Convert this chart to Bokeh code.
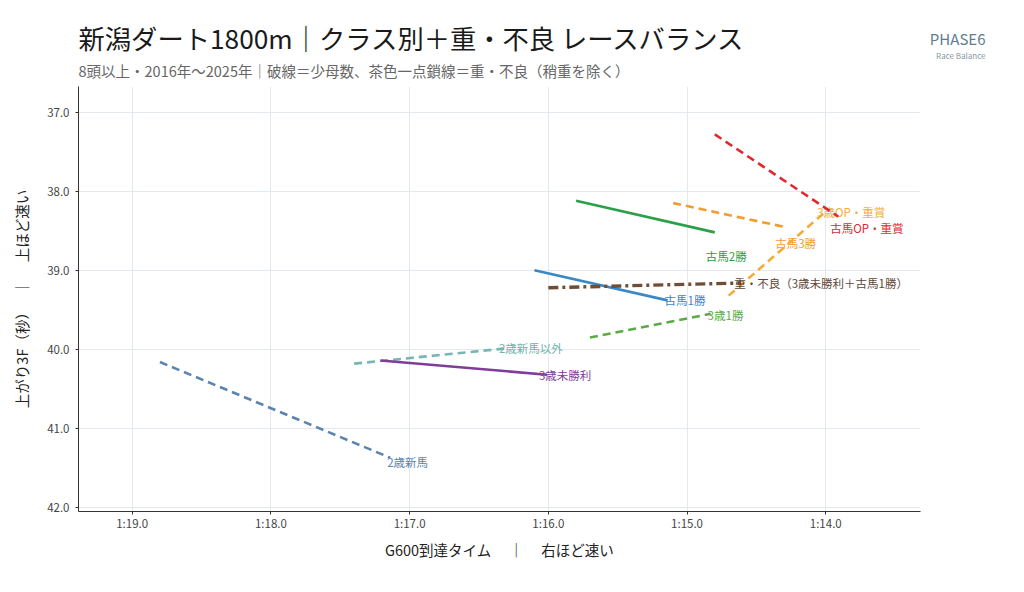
from bokeh.plotting import figure
from bokeh.layouts import column
from bokeh.models import Range1d, FixedTicker
from bokeh.core.properties import value
from bokeh.embed import file_html
from bokeh.resources import INLINE

# ---- data ----
classes = ["2歳新馬", "2歳新馬以外", "3歳未勝利", "3歳1勝", "古馬1勝", "古馬2勝",
           "古馬3勝", "3歳OP・重賞", "古馬OP・重賞", "重・不良（3歳未勝利＋古馬1勝）"]
g600_start = [78.80, 77.40, 77.21, 75.70, 76.10, 75.80, 75.10, 74.70, 74.80, 76.00]
g600_end = [77.14, 76.32, 76.01, 74.83, 75.14, 74.80, 74.30, 73.99, 73.91, 74.61]
l3f_start = [40.16, 40.18, 40.14, 39.85, 39.00, 38.12, 38.15, 39.32, 37.28, 39.22]
l3f_end = [41.37, 39.99, 40.32, 39.55, 39.38, 38.52, 38.45, 38.24, 38.32, 39.16]
line_kind = ["dash", "dash", "solid", "dash", "solid", "solid", "dash", "dash", "dash", "dashdot"]

x_ticks = [79, 78, 77, 76, 75, 74]
x_tick_labels = ["1:19.0", "1:18.0", "1:17.0", "1:16.0", "1:15.0", "1:14.0"]
y_ticks = [37, 38, 39, 40, 41, 42]
y_tick_labels = ["37.0", "38.0", "39.0", "40.0", "41.0", "42.0"]

title_text = "新潟ダート1800m｜クラス別＋重・不良 レースバランス"
subtitle_text = "8頭以上・2016年〜2025年｜破線＝少母数、茶色一点鎖線＝重・不良（稍重を除く）"
brand_text = "PHASE6"
brand_sub_text = "Race Balance"
x_label = "G600到達タイム　 ｜　 右ほど速い"
y_label = "上がり3F（秒）　 ｜　 上ほど速い"

# ---- styles ----
colors = ["#5b84b1", "#76b7b2", "#7f3c98", "#5aab47", "#3a88c6", "#2ca048",
          "#f29b30", "#f5ab35", "#e0282e", "#6f4e37"]
label_colors = ["#5b84b1", "#6fb3ad", "#7f3c98", "#5aab47", "#3a88c6", "#2ca048",
                "#f29b30", "#f2ad40", "#e0282e", "#5e4636"]
label_dx = [-3, -5, -8, -3, -3, -9, -9, -10, -8, -7]
label_dy = [4, -1, 0, 1, 0, 24, 16, 2, 11, 0]
dash_map = {"dash": "8 5", "solid": "solid", "dashdot": "10 4 3 4"}
width_map = {"dash": 2.6, "solid": 2.6, "dashdot": 3.4}

FONT = "Noto Sans CJK JP"
W = 1008
HEAD_H = 84
MAIN_H = 576 - HEAD_H

# ---- header (title / subtitle / brand) ----
h = figure(width=W, height=HEAD_H, output_backend="svg", toolbar_location=None,
           x_range=Range1d(0, W), y_range=Range1d(HEAD_H, 0),
           x_axis_type=None, y_axis_type=None,
           min_border=0, min_border_left=0, min_border_right=0,
           min_border_top=0, min_border_bottom=0)
h.frame_align = False
h.outline_line_color = None
h.xgrid.visible = False
h.ygrid.visible = False
h.text(x=[78], y=[37], text=[title_text], text_font=value(FONT), text_font_size="26.3px",
       text_color="#1a1a1a", text_align="left", text_baseline="middle")
h.text(x=[78], y=[70], text=[subtitle_text], text_font=value(FONT), text_font_size="14.5px",
       text_color="#666666", text_align="left", text_baseline="middle")
h.text(x=[985], y=[38], text=[brand_text], text_font=value(FONT), text_font_size="15px",
       text_color="#5f7d8e", text_align="right", text_baseline="middle")
h.text(x=[985], y=[55], text=[brand_sub_text], text_font=value(FONT), text_font_size="8px",
       text_color="#8797a3", text_align="right", text_baseline="middle")

# ---- main chart ----
p = figure(width=W, height=MAIN_H, output_backend="svg", toolbar_location=None,
           x_range=Range1d(79.387, 73.317), y_range=Range1d(42.05, 36.675),
           min_border_left=78, min_border_right=88, min_border_top=86 - HEAD_H,
           min_border_bottom=65)
p.frame_align = False
p.outline_line_color = None
p.background_fill_color = "white"
p.border_fill_color = "white"

for ax in (p.xaxis[0], p.yaxis[0]):
    ax.axis_line_color = "#333333"
    ax.major_tick_line_color = "#333333"
    ax.major_tick_out = 3
    ax.major_tick_in = 0
    ax.minor_tick_line_color = None
    ax.major_label_text_font = FONT
    ax.major_label_text_font_size = "11.5px"
    ax.major_label_text_color = "#444444"
    ax.axis_label_text_font = FONT
    ax.axis_label_text_font_size = "14.5px"
    ax.axis_label_text_font_style = "normal"
    ax.axis_label_text_color = "#222222"

p.xaxis.ticker = FixedTicker(ticks=x_ticks)
p.xaxis.major_label_overrides = {t: l for t, l in zip(x_ticks, x_tick_labels)}
p.yaxis.ticker = FixedTicker(ticks=y_ticks)
p.yaxis.major_label_overrides = {t: l for t, l in zip(y_ticks, y_tick_labels)}
p.xaxis.axis_label = x_label
p.yaxis.axis_label = y_label
p.xaxis.major_label_standoff = 0
p.yaxis.major_label_standoff = 6
p.xaxis.axis_label_standoff = 5
p.yaxis.axis_label_standoff = 12

p.xgrid.grid_line_color = "#e4e8ef"
p.ygrid.grid_line_color = "#e4e8ef"

for i, name in enumerate(classes):
    k = line_kind[i]
    p.line([g600_start[i], g600_end[i]], [l3f_start[i], l3f_end[i]],
           line_color=colors[i], line_width=width_map[k], line_dash=dash_map[k])
    p.text(x=[g600_end[i]], y=[l3f_end[i]], text=[name], text_color=label_colors[i],
           text_font=value(FONT), text_font_size="11.5px", text_align="left",
           text_baseline="middle", x_offset=label_dx[i], y_offset=label_dy[i])

layout = column(h, p, spacing=0)
open("out.html", "w").write(file_html(layout, INLINE))
